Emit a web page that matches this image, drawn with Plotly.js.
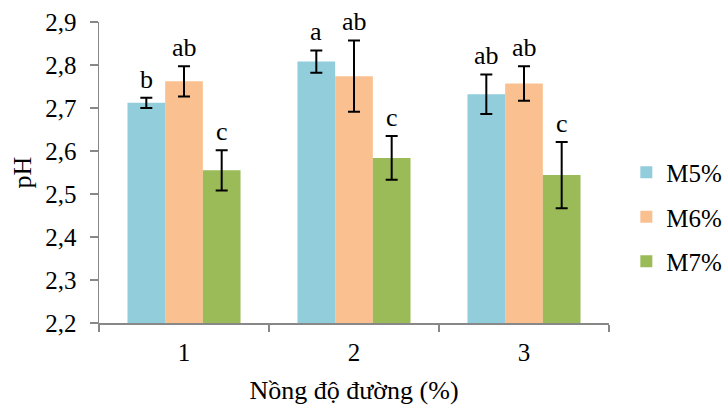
<!DOCTYPE html>
<html>
<head>
<meta charset="utf-8">
<script src="https://cdn.plot.ly/plotly-3.0.1.min.js"></script>
<style>html,body{margin:0;padding:0;background:#fff;}#chart{width:727px;height:409px;}</style>
</head>
<body>
<div id="chart"></div>
<script>
const categories = ['1', '2', '3'];
const seriesNames = ['M5%', 'M6%', 'M7%'];
const m5 = [2.712, 2.808, 2.732];
const m6 = [2.762, 2.774, 2.757];
const m7 = [2.555, 2.584, 2.544];
const m5Err = [0.012, 0.026, 0.046];
const m6Err = [0.035, 0.083, 0.040];
const m7Err = [0.047, 0.051, 0.077];
const m5Labels = ['b', 'a', 'ab'];
const m6Labels = ['ab', 'ab', 'ab'];
const m7Labels = ['c', 'c', 'c'];
const colors = ['#92CDDC', '#FAC090', '#9BBB59'];

const values = [m5, m6, m7];
const errs = [m5Err, m6Err, m7Err];
const labels = [m5Labels, m6Labels, m7Labels];
const bargap = 0.335;
const w = (1 - bargap) / 3;
const FONT = 'Liberation Serif, Times New Roman, serif';

const traces = values.map((v, j) => ({
  type: 'bar',
  name: seriesNames[j],
  legendgroup: 'g' + j,
  x: categories,
  y: v,
  marker: {color: colors[j], line: {width: 0}},
  error_y: {type: 'data', array: errs[j], visible: true, color: '#000', thickness: 2, width: 6}
}));

const annotations = [];
values.forEach((v, j) => {
  v.forEach((val, i) => {
    annotations.push({
      x: i + (j - 1) * w,
      y: val + errs[j][i],
      xref: 'x', yref: 'y',
      text: labels[j][i],
      showarrow: false,
      yanchor: 'bottom',
      yshift: 2,
      font: {family: FONT, size: 26, color: '#000'}
    });
  });
});

const layout = {
  width: 727, height: 409,
  margin: {l: 99, r: 118, t: 22, b: 86, autoexpand: false},
  paper_bgcolor: '#fff', plot_bgcolor: '#fff',
  separators: ',.',
  barmode: 'group', bargap: bargap, bargroupgap: 0,
  font: {family: FONT, size: 25, color: '#000'},
  showlegend: true,
  legend: {
    x: 1.034, xanchor: 'left', y: 0.352, yanchor: 'middle',
    font: {family: FONT, size: 25, color: '#000'},
    traceorder: 'grouped', tracegroupgap: 9,
    bgcolor: 'rgba(0,0,0,0)'
  },
  xaxis: {
    type: 'category', automargin: false,
    showline: true, linecolor: '#888', linewidth: 1.5,
    ticks: 'outside', tickson: 'boundaries', ticklen: 7, tickcolor: '#888', tickwidth: 1.5,
    showgrid: false, zeroline: false,
    tickfont: {family: FONT, size: 25, color: '#000'},
    ticklabelstandoff: 6,
    title: {text: 'Nồng độ đường (%)', font: {family: FONT, size: 26, color: '#000'}, standoff: 16}
  },
  yaxis: {
    range: [2.2, 2.9], dtick: 0.1, tick0: 2.2, tickformat: '.1f', automargin: false,
    showline: true, linecolor: '#888', linewidth: 1.5,
    ticks: 'outside', ticklen: 8, tickcolor: '#888', tickwidth: 1.5,
    showgrid: false, zeroline: false,
    tickfont: {family: FONT, size: 25, color: '#000'},
    ticklabelstandoff: 8,
    title: {text: 'pH', font: {family: FONT, size: 26, color: '#000'}, standoff: 6}
  },
  annotations: annotations
};

Plotly.newPlot('chart', traces, layout, {displayModeBar: false, staticPlot: true});
</script>
</body>
</html>
